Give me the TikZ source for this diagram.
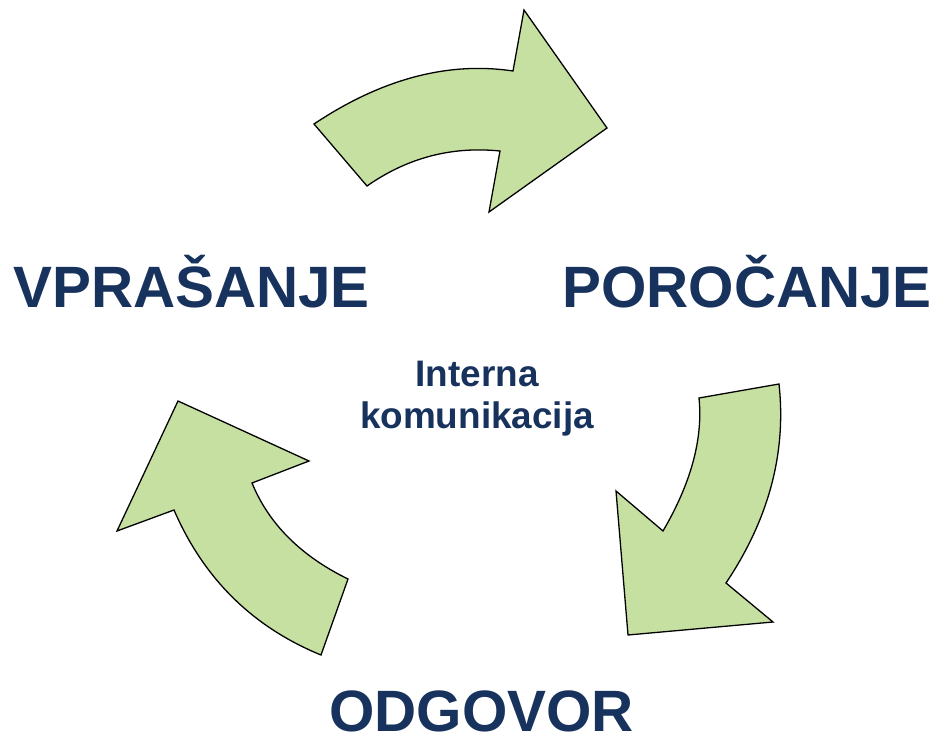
\documentclass[tikz,border=0pt]{standalone}
\usepackage{fontspec}
\setmainfont{Liberation Sans}
\definecolor{navy}{RGB}{23,50,92}
\definecolor{leaf}{RGB}{197,224,160}
\begin{document}
\begin{tikzpicture}[x=0.03cm,y=-0.03cm,
  arrowshape/.style={fill=leaf,draw=black,line width=1.1pt,line join=miter},
  bigword/.style={text=navy,font=\fontsize{49.8}{55}\selectfont\bfseries,inner sep=0pt,anchor=base west},
  midword/.style={text=navy,font=\fontsize{31.5}{35}\selectfont\bfseries,inner sep=0pt,align=center}]
\useasboundingbox (0,0) rectangle (940,735);
% top arrow
\draw[arrowshape] (314,124) .. controls (381.6,78.9) and (448,61.3) .. (513,71)
  -- (524,10) -- (607,128) -- (489,212) -- (500,151)
  .. controls (451.6,146.1) and (407.3,157.8) .. (367,186) -- cycle;
% right arrow
\draw[arrowshape] (779,384) .. controls (786.5,452.7) and (768.9,519) .. (726,583)
  -- (773,622) -- (628,635) -- (616,491) -- (663,531)
  .. controls (691.1,483) and (703.1,438.7) .. (699,398) -- cycle;
% left arrow
\draw[arrowshape] (321,655) .. controls (252.5,626.9) and (203.7,578.6) .. (174,510)
  -- (117,531) -- (178,401) -- (309,461) -- (252,483)
  .. controls (268.8,523.9) and (300.8,555.9) .. (348,579) -- cycle;
% texts
\node[bigword] (vpr) at (13,308) {VPRAŠANJE};
\node[bigword,anchor=base east] (por) at (932,308) {POROČANJE};
\node[bigword] (odg) at (329,731) {ODGOVOR};
\node[midword,anchor=base] (int) at (477,428) {Interna\\komunikacija};
\end{tikzpicture}
\end{document}
